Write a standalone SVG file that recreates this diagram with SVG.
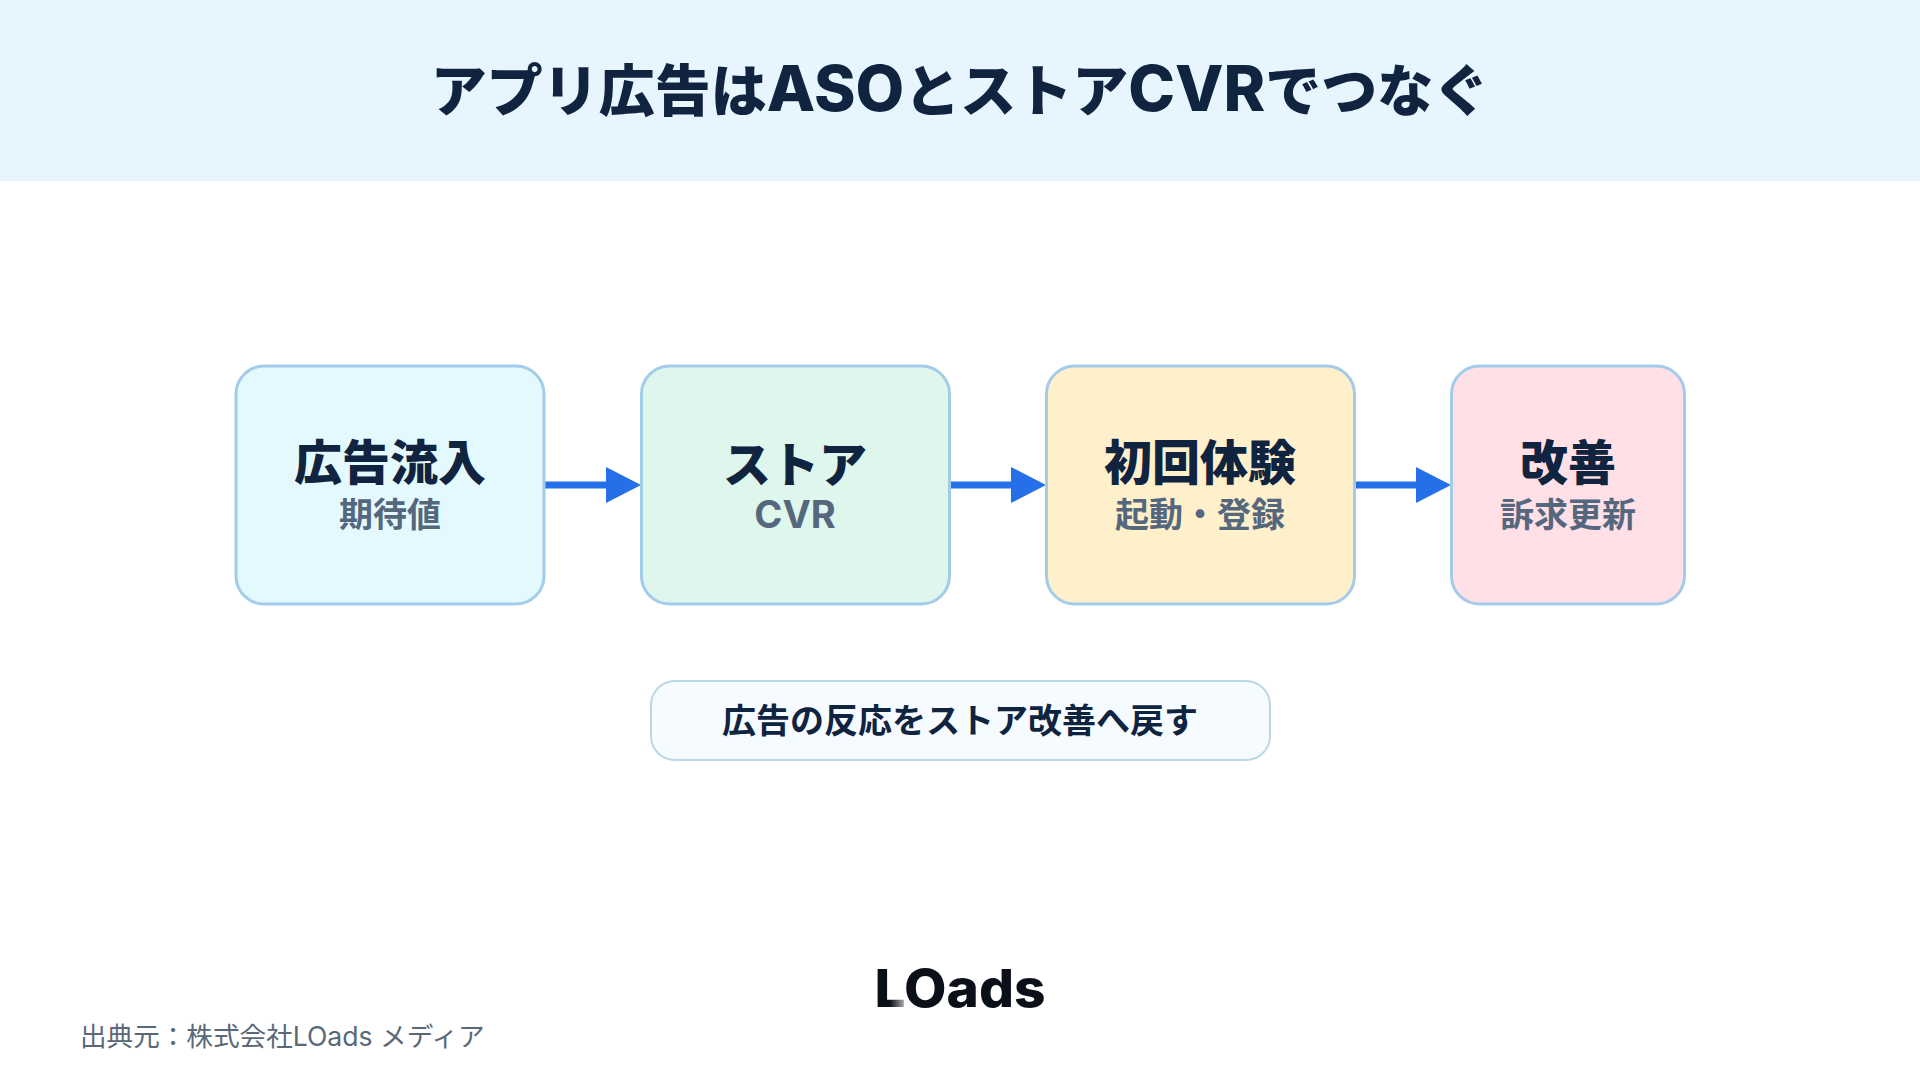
<svg xmlns="http://www.w3.org/2000/svg" width="1920" height="1080" viewBox="0 0 1920 1080">
<style>
text{font-family:Inter,"Noto Sans CJK JP",sans-serif;text-anchor:middle}
.b{stroke:#a3cbea;stroke-width:3}
.t{font-size:48px;font-weight:800;fill:#10233f}
.s{font-size:34px;font-weight:700;fill:#55677c}
.c{stroke:#256fe8;stroke-width:7;fill:none}
.h{fill:#256fe8}
.l{font-size:63px}
</style>
<defs><linearGradient id="lg" gradientUnits="userSpaceOnUse" x1="890" x2="909" y1="0" y2="0"><stop offset="0" stop-color="#0b0f17"/><stop offset="1" stop-color="#0b0f17" stop-opacity="0.15"/></linearGradient></defs>
<rect id="header" width="1920" height="181" fill="#e7f5ff"/>
<text id="title" x="960" y="111" font-size="56" font-weight="800" fill="#10233f">アプリ広告は<tspan class="l">ASO</tspan>とストア<tspan class="l">CVR</tspan>でつなぐ</text>
<g id="connectors">
<path class="c" d="M545 485H608"/><polygon class="h" points="606,467 641,485 606,503"/>
<path class="c" d="M950 485H1013"/><polygon class="h" points="1011,467 1046,485 1011,503"/>
<path class="c" d="M1355 485H1418"/><polygon class="h" points="1416,467 1451,485 1416,503"/>
</g>
<g id="node1"><rect class="b" x="236" y="366" width="308" height="238" rx="28" fill="#e4f9fe"/><text class="t" x="390" y="480">広告流入</text><text class="s" x="390" y="527">期待値</text></g>
<g id="node2"><rect class="b" x="641.5" y="366" width="308" height="238" rx="28" fill="#def6ec"/><text class="t" x="795" y="482">ストア</text><text class="s" x="795" y="528" style="font-size:38px">CVR</text></g>
<g id="node3"><rect class="b" x="1046.5" y="366" width="308" height="238" rx="28" fill="#fef0cb"/><text class="t" x="1200" y="480">初回体験</text><text class="s" x="1200" y="527">起動・登録</text></g>
<g id="node4"><rect class="b" x="1451.5" y="366" width="233" height="238" rx="28" fill="#fee0e6"/><text class="t" x="1568" y="480">改善</text><text class="s" x="1568" y="527">訴求更新</text></g>
<g id="note"><rect x="651" y="681" width="619" height="79" rx="24" fill="#f6fbff" stroke="#bad8e6" stroke-width="2"/><text x="960" y="733" font-size="34" font-weight="700" fill="#10233f">広告の反応をストア改善へ戻す</text></g>
<text id="logo" x="960" y="1007" font-size="52" font-weight="800" fill="#0b0f17" textLength="171" lengthAdjust="spacingAndGlyphs"><tspan fill="url(#lg)">L</tspan>Oads</text>
<text id="source" x="80" y="1046" font-size="26.6" fill="#5a6878" style="text-anchor:start">出典元：株式会社LOads メディア</text>
</svg>
